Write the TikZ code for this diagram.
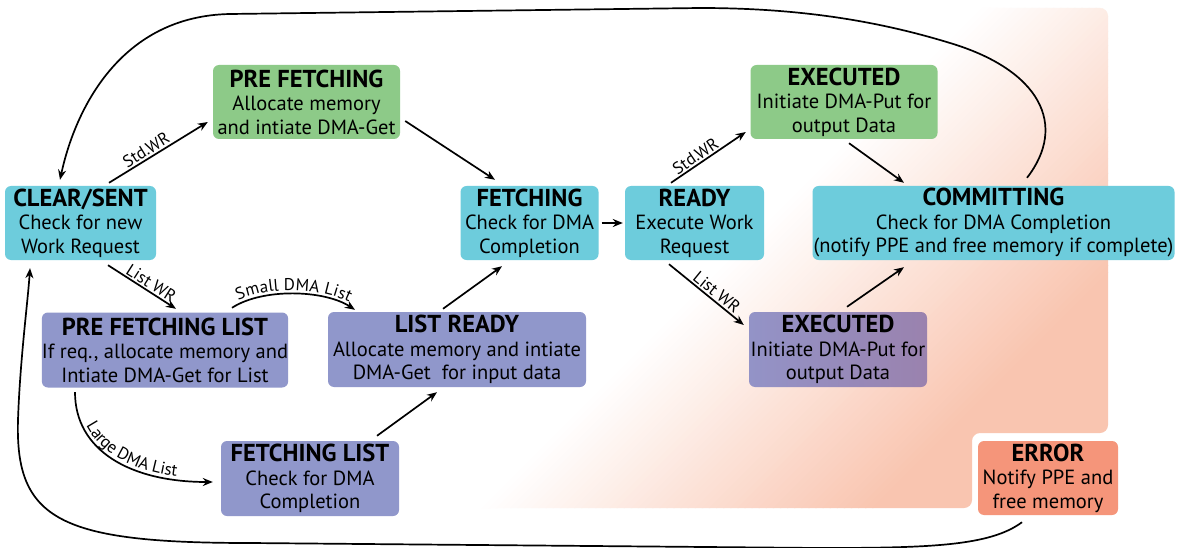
\documentclass[tikz,border=0pt]{standalone}
\usepackage{fontspec}
\setmainfont{PT Sans}
\usetikzlibrary{arrows.meta,calc,decorations.text}
\definecolor{cyanC}{HTML}{6DCCDC}
\definecolor{greenC}{HTML}{8DCA88}
\definecolor{purpC}{HTML}{9097CB}
\definecolor{purpL}{HTML}{9393C7}
\definecolor{purpR}{HTML}{9A82AE}
\definecolor{errC}{HTML}{F5957A}
\definecolor{orgC}{HTML}{F9C5B0}
\newcommand\ttl[1]{{\fontsize{24.5}{23.5}\selectfont\bfseries #1}}
\begin{document}
\begin{tikzpicture}[x=1pt,y=-1pt,
  box/.style={rounded corners=6pt, align=center, inner sep=0pt, font=\fontsize{20.5}{23.5}\selectfont, minimum height=74pt},
  arr/.style={line width=1.7pt, -{Stealth[length=10pt,width=8pt]}},
  lab/.style={font=\fontsize{17}{17}\selectfont, sloped, above, inner sep=1.5pt},
  curvetext/.style={decorate, decoration={text along path, text align=center, raise=3.5pt, text={#1}}}]
\useasboundingbox (0,0) rectangle (1177,548);
\fill[white] (0,0) rectangle (1177,548);
% orange background region
\begin{scope}
\clip[rounded corners=8pt] (380,8) -- (1108,8) -- (1108,433) -- (972,433) -- (972,508) -- (380,508) -- cycle;
\foreach \i in {0,...,54} {
  \pgfmathsetmacro\c{990+\i*7.1}
  \pgfmathsetmacro\p{(\i+0.5)*100/55}
  \fill[orgC!\p!white] (\c,0) -- (\c-600,600) -- (\c-592,600) -- (\c+8,0) -- cycle;
}
\fill[orgC] (1380.5,0) -- (780.5,600) -- (1800,600) -- (1800,0) -- cycle;
\end{scope}
% nodes
\node[box, fill=cyanC, minimum width=151pt] (cs) at (80.5,223) {\ttl{CLEAR/SENT}\\Check for new\\Work Request};
\node[box, fill=greenC, minimum width=187pt] (pf) at (306.5,102) {\ttl{PRE FETCHING}\\Allocate memory\\and intiate DMA-Get};
\node[box, fill=cyanC, minimum width=138pt] (fe) at (529.5,223) {\ttl{FETCHING}\\Check for DMA\\Completion};
\node[box, fill=cyanC, minimum width=139pt] (rd) at (694.5,223) {\ttl{READY}\\Execute Work\\Request};
\node[box, fill=greenC, minimum width=187pt] (exg) at (844,102) {\ttl{EXECUTED}\\Initiate DMA-Put for\\output Data};
\node[box, fill=cyanC, minimum width=362pt] (cm) at (993.5,223) {\ttl{COMMITTING}\\Check for DMA Completion\\(notify PPE and free memory if complete)};
\node[box, fill=purpC, minimum width=244pt, minimum height=75pt] (pfl) at (165,350) {\ttl{PRE FETCHING LIST}\\If req., allocate memory and\\Intiate DMA-Get for List};
\node[box, fill=purpC, minimum width=258pt, minimum height=75pt] (lr) at (457,349.5) {\ttl{LIST READY}\\Allocate memory and intiate\\DMA-Get\ \ for input data};
\node[box, fill=purpC, minimum width=178pt, minimum height=75pt] (fl) at (310,478.5) {\ttl{FETCHING LIST}\\Check for DMA\\Completion};
\node[box, left color=purpL, right color=purpR, minimum width=178pt, minimum height=75pt] (exp) at (838,349.5) {\ttl{EXECUTED}\\Initiate DMA-Put for\\output Data};
\node[box, fill=errC, minimum width=140pt] (er) at (1048,478) {\ttl{ERROR}\\Notify PPE and\\free memory};
% connectors
\draw[arr] ($(cs.north)+(28.5,-3)$) -- node[lab, pos=0.42]{Std.WR} ($(pf.west)+(-5,20)$);
\draw[arr] ($(pf.east)+(5,19)$) -- ($(fe.north)+(-34.5,-6)$);
\draw[arr] ($(cs.south)+(27.5,5)$) -- node[lab, pos=0.57]{List WR} ($(pfl.north)+(11,-3.5)$);
\draw[arr] ($(pfl.north)+(67,-4.5)$) .. controls +(30.8,-20) and +(-30.8,-20) .. ($(lr.north)+(-102,-2)$);
\path[curvetext={|\fontsize{17}{17}\selectfont|Small DMA List}] ($(pfl.north)+(67,-4.5)$) .. controls +(30.8,-20) and +(-30.8,-20) .. ($(lr.north)+(-102,-2)$);
\draw[arr] ($(pfl.south)+(-90,4.5)$) .. controls +(0,58) and +(-83,0) .. ($(fl.west)+(-8,3.5)$);
\path[curvetext={|\fontsize{17}{17}\selectfont|Large DMA List}] ($(pfl.south)+(-90,4.5)$) .. controls +(0,58) and +(-83,0) .. ($(fl.west)+(-8,3.5)$);
\draw[arr] ($(fl.north)+(67,-5)$) -- ($(lr.south)+(-20,5)$);
\draw[arr] ($(lr.north)+(-14,-3)$) -- ($(fe.south)+(-27.5,6)$);
\draw[arr, shorten <=3pt, shorten >=2pt] (fe.east) -- (rd.west);
\draw[arr] ($(rd.north)+(-23.5,-3)$) -- node[lab, pos=0.39]{Std.WR} ($(exg.west)+(-4.5,30)$);
\draw[arr] ($(rd.south)+(-25.5,4)$) -- node[lab, pos=0.57]{List WR} ($(exp.west)+(-5,-24.5)$);
\draw[arr] ($(exp.north)+(9,-5)$) -- ($(cm.south)+(-89.5,7)$);
\draw[arr] ($(exg.south)+(5,4)$) -- ($(cm.north)+(-89.5,-3)$);
\draw[arr] ($(cm.north)+(33.5,-8)$) .. controls (1068,125) and (1040,70) .. (950,43)
   .. controls (878,21) and (800,8) .. (700,8) -- (230,14)
   .. controls (120,16) and (75,110) .. ($(cs.north)+(-20.5,-6)$);
\draw[arr] ($(er.south)+(-26,7)$) .. controls (990,546) and (930,548) .. (820,548) -- (250,543)
   .. controls (60,543) and (15,520) .. (18,420)
   .. controls (20,360) and (28,300) .. ($(cs.south)+(-50.5,8)$);
\end{tikzpicture}
\end{document}
